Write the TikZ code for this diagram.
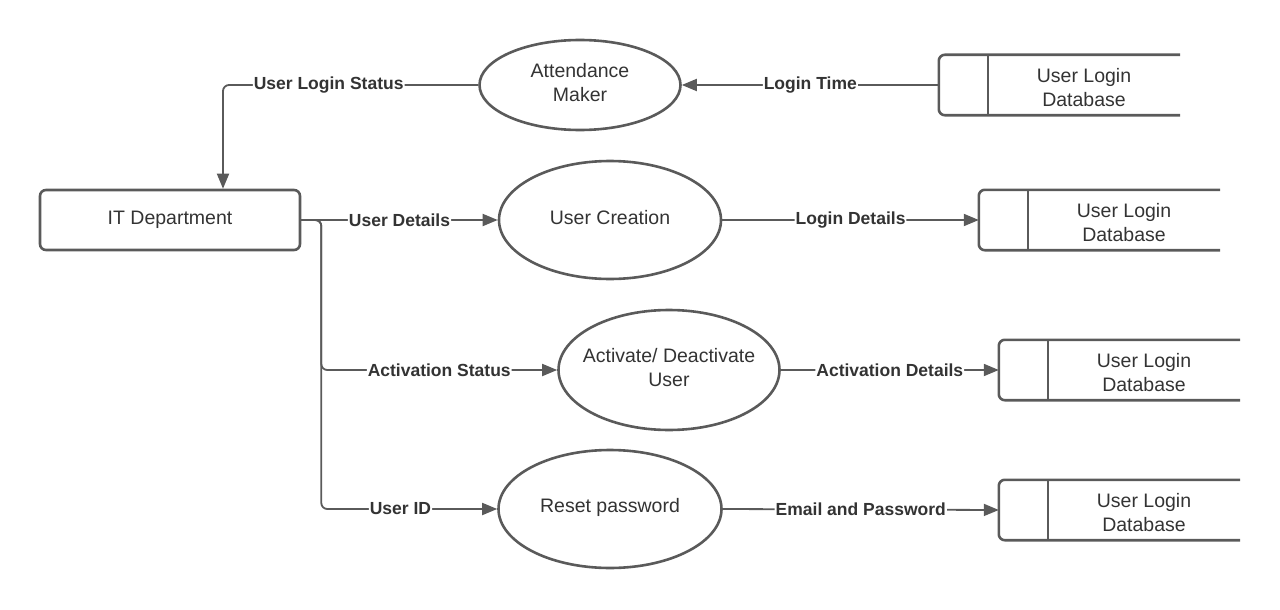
\documentclass[tikz,border=0pt]{standalone}
\usepackage{fontspec}
\setmainfont{Liberation Sans}
\usetikzlibrary{shapes.geometric,arrows.meta,calc}
\definecolor{ln}{HTML}{5A5A5A}
\definecolor{tx}{HTML}{333333}
\tikzset{
  proc/.style={ellipse,draw=ln,line width=2.6pt,inner sep=0pt},
  proctext/.style={text=tx,font=\fontsize{19.5}{24}\selectfont,align=center,inner sep=0pt},
  ent/.style={rectangle,draw=ln,line width=2.6pt,rounded corners=6pt,
    minimum width=260pt,minimum height=60pt,inner sep=0pt,text=tx,
    font=\fontsize{19.5}{24}\selectfont},
  storebox/.style={rectangle,minimum width=241pt,minimum height=60pt,inner sep=0pt},
  storetext/.style={text=tx,font=\fontsize{19.5}{24}\selectfont,align=center,inner sep=0pt},
  storeline/.style={draw=ln,line width=2.6pt,rounded corners=6pt},
  flow/.style={draw=ln,line width=1.8pt,rounded corners=6pt,
    -{Triangle[length=15pt,width=12pt]}},
  lab/.style={fill=white,text=tx,font=\bfseries\fontsize{17.5}{20}\selectfont,
    inner sep=1pt}
}
\newcommand{\mystore}[1]{%
  \draw[storeline] (#1.north east) -- (#1.north west) -- (#1.south west) -- (#1.south east);
  \draw[storeline] ([xshift=49pt]#1.north west) -- ([xshift=49pt]#1.south west);
  \node[storetext] (#1t) at ($([xshift=49pt,yshift=-3pt]#1.west)!0.5!([yshift=-3pt]#1.east)$) {User Login\\Database};
}
\begin{document}
\begin{tikzpicture}[x=1pt,y=-1pt]
\useasboundingbox (0,0) rectangle (1280,610);
% processes
\node[proc,minimum width=201pt,minimum height=90pt] (am) at (580,85) {};
\node[proctext] (amt) at (580,83) {Attendance\\Maker};
\node[proc,minimum width=222pt,minimum height=118pt] (uc) at (610,220) {};
\node[proctext] (uct) at (610,218) {User Creation};
\node[proc,minimum width=221pt,minimum height=120pt] (ad) at (669,370) {};
\node[proctext] (adt) at (669,368) {Activate/ Deactivate\\User};
\node[proc,minimum width=223pt,minimum height=118pt] (rp) at (610,509) {};
\node[proctext] (rpt) at (610,507) {Reset password};
% entity
\node[ent] (it) at (170,220) {IT Department};
% stores
\node[storebox] (s1) at (1059.5,85) {};
\node[storebox] (s2) at (1099.5,220) {};
\node[storebox] (s3) at (1119.5,370) {};
\node[storebox] (s4) at (1119.5,510) {};
\mystore{s1}
\mystore{s2}
\mystore{s3}
\mystore{s4}
% flows
\draw[flow] (s1.west) -- node[lab] {Login Time} (am.east);
\draw[flow] (am.west) -| node[lab,pos=0.293] {User Login Status} ([xshift=53pt]it.north);
\draw[flow] (it.east) -- node[lab] {User Details} (uc.west);
\draw[flow] (uc.east) -- node[lab] {Login Details} (s2.west);
\draw[flow] (it.east) -- ++(20,0) |- node[lab,pos=0.75] {Activation Status} (ad.west);
\draw[flow] (it.east) -- ++(20,0) |- node[lab,pos=0.725] {User ID} (rp.west);
\draw[flow] (ad.east) -- node[lab] {Activation Details} (s3.west);
\draw[flow] (rp.east) -- node[lab] {Email and Password} (s4.west);
\end{tikzpicture}
\end{document}
